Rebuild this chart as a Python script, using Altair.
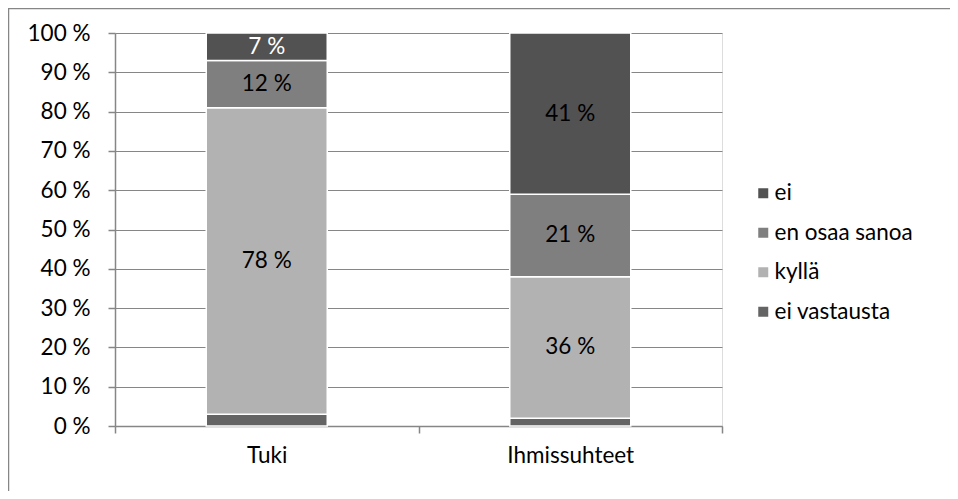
import altair as alt
import pandas as pd

categories = ["Tuki", "Ihmissuhteet"]
series = ["ei vastausta", "kyllä", "en osaa sanoa", "ei"]
legend_order = ["ei", "en osaa sanoa", "kyllä", "ei vastausta"]
values = {
    "ei vastausta": [3, 2],
    "kyllä": [78, 36],
    "en osaa sanoa": [12, 21],
    "ei": [7, 41],
}
colors = {"ei": "#525252", "en osaa sanoa": "#7f7f7f", "kyllä": "#b2b2b2", "ei vastausta": "#646464"}
y_ticks = [0, 10, 20, 30, 40, 50, 60, 70, 80, 90, 100]

rows = []
for ci, c in enumerate(categories):
    for si, s in enumerate(series):
        rows.append({"cat": c, "series": s, "value": values[s][ci], "order": si})
df = pd.DataFrame(rows)

FONT = "Lato"
FS = 22.5
W, H = 607, 393

base = alt.Chart(df).transform_stack(
    stack="value", as_=["y0", "y1"], groupby=["cat"], sort=[alt.SortField("order")]
).transform_calculate(mid="(datum.y0 + datum.y1) / 2")

xaxis = alt.Axis(tickBand="extent", labelAngle=0, labelFontSize=FS, labelFont=FONT,
                 labelColor="black", labelPadding=11, tickSize=7, tickColor="#868686",
                 domainColor="#868686", domainWidth=1.5, tickWidth=1.5, grid=False)
xscale = alt.Scale(paddingInner=0, paddingOuter=0)
yaxis = alt.Axis(values=y_ticks, labelExpr="datum.value + ' %'", labelFontSize=FS,
                 labelFont=FONT, labelColor="black", labelPadding=18, tickSize=7,
                 labelOverlap=False, tickColor="#868686", domainColor="#868686",
                 domainWidth=1.5, tickWidth=1.5, gridColor="#868686", gridWidth=1.2)
yscale = alt.Scale(domain=[0, 100], nice=False)

bars = base.mark_bar(width=121, stroke="white", strokeWidth=1.5).encode(
    x=alt.X("cat:N", sort=categories, title=None, scale=xscale, axis=xaxis),
    y=alt.Y("y0:Q", title=None, scale=yscale, axis=yaxis),
    y2="y1:Q",
    color=alt.Color("series:N", sort=legend_order,
                    scale=alt.Scale(domain=legend_order, range=[colors[s] for s in legend_order]),
                    legend=alt.Legend(title=None, orient="none", legendX=637, legendY=149,
                                      symbolType="square", symbolSize=100, symbolStrokeWidth=0,
                                      labelFontSize=FS, labelFont=FONT, labelColor="black",
                                      rowPadding=16.5, labelOffset=0)),
)

labels = base.transform_filter("datum.value >= 5").transform_calculate(
    label="datum.value + ' %'"
).mark_text(fontSize=FS, font=FONT).encode(
    x=alt.X("cat:N", sort=categories, title=None, scale=xscale, axis=xaxis),
    y=alt.Y("mid:Q", title=None, scale=yscale, axis=yaxis),
    text=alt.Text("label:N"),
    color=alt.condition("datum.series == 'ei' && datum.cat == 'Tuki'", alt.value("white"), alt.value("black")),
)

frame = pd.DataFrame({"a": [0]})
border_top = alt.Chart(frame).mark_rule(stroke="#868686", strokeWidth=1.5, clip=False).encode(
    x=alt.value(-107), x2=alt.value(W + 228), y=alt.value(-24.5))
border_left = alt.Chart(frame).mark_rule(stroke="#868686", strokeWidth=1.5, clip=False).encode(
    x=alt.value(-106.5), y=alt.value(-25), y2=alt.value(H + 65))

chart = alt.layer(border_top, border_left, bars, labels).properties(
    width=W, height=H, padding={"left": 107, "top": 25, "right": 228, "bottom": 65},
    autosize=alt.AutoSizeParams(type="none"),
).configure_view(stroke=None).configure(background="white")

chart.save("out.html", embed_options={"renderer": "svg", "actions": False})
